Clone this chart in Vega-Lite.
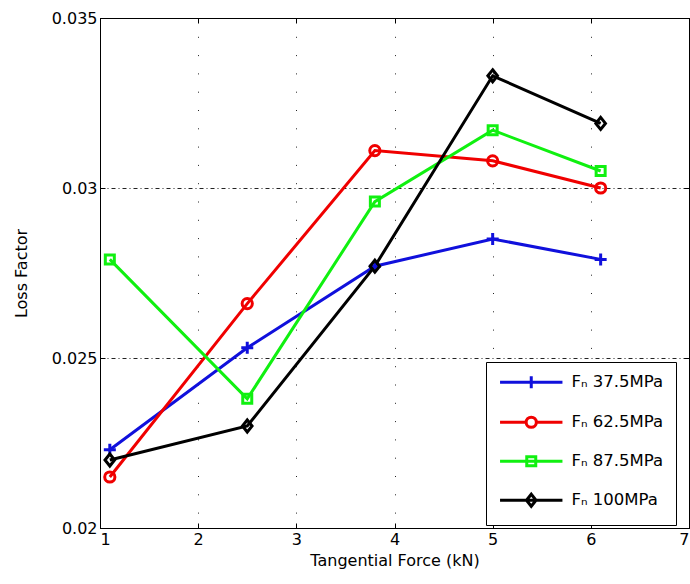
{
  "$schema": "https://vega.github.io/schema/vega-lite/v6.json",
  "width": 589,
  "height": 510,
  "autosize": {"type": "none"},
  "padding": {"left": 100, "top": 18, "right": 1, "bottom": 56},
  "background": "white",
  "config": {
    "font": "DejaVu Sans",
    "view": {"stroke": "black", "strokeWidth": 1},
    "axis": {
      "domainColor": "black",
      "tickColor": "black",
      "labelColor": "black",
      "titleColor": "black",
      "labelFont": "DejaVu Sans",
      "titleFont": "DejaVu Sans",
      "labelFontSize": 16,
      "titleFontSize": 16,
      "titleFontWeight": "normal",
      "gridColor": "#222222",
      "gridOpacity": 1,
      "gridWidth": 1,
      "tickSize": -5
    },
    "legend": {
      "orient": "none",
      "legendX": 386,
      "legendY": 344,
      "padding": 12,
      "strokeColor": "black",
      "fillColor": "white",
      "cornerRadius": 0,
      "symbolSize": 144,
      "symbolStrokeWidth": 3,
      "symbolOffset": 25,
      "labelOffset": 32,
      "rowPadding": 16,
      "labelFont": "DejaVu Sans",
      "labelFontSize": 16.5,
      "labelColor": "black",
      "labelLimit": 300
    }
  },
  "data": {
    "values": [
      {"force": 1.1, "loss": 0.0223, "series": "Fₙ 37.5MPa"},
      {"force": 2.5, "loss": 0.0253, "series": "Fₙ 37.5MPa"},
      {"force": 3.8, "loss": 0.0277, "series": "Fₙ 37.5MPa"},
      {"force": 5.0, "loss": 0.0285, "series": "Fₙ 37.5MPa"},
      {"force": 6.1, "loss": 0.0279, "series": "Fₙ 37.5MPa"},
      {"force": 1.1, "loss": 0.0215, "series": "Fₙ 62.5MPa"},
      {"force": 2.5, "loss": 0.0266, "series": "Fₙ 62.5MPa"},
      {"force": 3.8, "loss": 0.0311, "series": "Fₙ 62.5MPa"},
      {"force": 5.0, "loss": 0.0308, "series": "Fₙ 62.5MPa"},
      {"force": 6.1, "loss": 0.0300, "series": "Fₙ 62.5MPa"},
      {"force": 1.1, "loss": 0.0279, "series": "Fₙ 87.5MPa"},
      {"force": 2.5, "loss": 0.0238, "series": "Fₙ 87.5MPa"},
      {"force": 3.8, "loss": 0.0296, "series": "Fₙ 87.5MPa"},
      {"force": 5.0, "loss": 0.0317, "series": "Fₙ 87.5MPa"},
      {"force": 6.1, "loss": 0.0305, "series": "Fₙ 87.5MPa"},
      {"force": 1.1, "loss": 0.0220, "series": "Fₙ 100MPa"},
      {"force": 2.5, "loss": 0.0230, "series": "Fₙ 100MPa"},
      {"force": 3.8, "loss": 0.0277, "series": "Fₙ 100MPa"},
      {"force": 5.0, "loss": 0.0333, "series": "Fₙ 100MPa"},
      {"force": 6.1, "loss": 0.0319, "series": "Fₙ 100MPa"}
    ]
  },
  "resolve": {"axis": {"x": "independent", "y": "independent"}},
  "layer": [
    {
      "mark": {"type": "line", "strokeWidth": 3, "clip": true},
      "encoding": {
        "x": {
          "field": "force", "type": "quantitative",
          "scale": {"domain": [1, 7], "nice": false, "zero": false},
          "axis": {
            "title": "Tangential Force (kN)",
            "values": [1, 2, 3, 4, 5, 6, 7],
            "grid": true,
            "gridDash": [1, 17.3],
            "labelPadding": 8,
            "titlePadding": 5
          }
        },
        "y": {
          "field": "loss", "type": "quantitative",
          "scale": {"domain": [0.02, 0.035], "nice": false, "zero": false},
          "axis": {
            "title": "Loss Factor",
            "values": [0.02, 0.025, 0.03, 0.035],
            "format": ".3~f",
            "grid": true,
            "gridDash": [4, 3, 1, 3],
            "labelPadding": 8,
            "titlePadding": 22
          }
        },
        "color": {
          "field": "series", "type": "nominal",
          "scale": {
            "domain": ["Fₙ 37.5MPa", "Fₙ 62.5MPa", "Fₙ 87.5MPa", "Fₙ 100MPa"],
            "range": ["#1010dc", "#f00000", "#10f010", "#000000"]
          },
          "legend": {
            "title": null,
            "encode": {
              "symbols": {
                "update": {
                  "fill": {"value": "transparent"},
                  "shape": {
                    "signal": "datum.value === 'Fₙ 37.5MPa' ? 'M-5.2,0H5.2M0,-1V1' : datum.value === 'Fₙ 62.5MPa' ? 'M-5.2,0H-0.85M0.85,0H5.2M0.85,0A0.85,0.85,0,1,1,-0.85,0A0.85,0.85,0,1,1,0.85,0Z' : datum.value === 'Fₙ 87.5MPa' ? 'M-5.2,0H5.2M-0.75,-0.75H0.75V0.75H-0.75Z' : 'M-5.2,0H5.2M0,-1L0.8,0L0,1L-0.8,0Z'"
                  }
                }
              }
            }
          }
        },
        "detail": {"field": "series"}
      }
    },
    {
      "mark": {"type": "point", "filled": false, "strokeWidth": 3, "size": 144, "opacity": 1},
      "encoding": {
        "x": {
          "field": "force", "type": "quantitative",
          "axis": {"orient": "top", "values": [1, 2, 3, 4, 5, 6, 7], "labels": false, "title": null, "grid": false}
        },
        "y": {
          "field": "loss", "type": "quantitative",
          "axis": {"orient": "right", "values": [0.02, 0.025, 0.03, 0.035], "labels": false, "title": null, "grid": false}
        },
        "color": {
          "field": "series", "type": "nominal",
          "legend": {
            "title": null,
            "encode": {
              "symbols": {
                "update": {
                  "fill": {"value": "transparent"},
                  "shape": {
                    "signal": "datum.value === 'Fₙ 37.5MPa' ? 'M-5.2,0H5.2M0,-1V1' : datum.value === 'Fₙ 62.5MPa' ? 'M-5.2,0H-0.85M0.85,0H5.2M0.85,0A0.85,0.85,0,1,1,-0.85,0A0.85,0.85,0,1,1,0.85,0Z' : datum.value === 'Fₙ 87.5MPa' ? 'M-5.2,0H5.2M-0.75,-0.75H0.75V0.75H-0.75Z' : 'M-5.2,0H5.2M0,-1L0.8,0L0,1L-0.8,0Z'"
                  }
                }
              }
            }
          }
        },
        "shape": {
          "field": "series", "type": "nominal",
          "scale": {
            "range": [
              "M0,-1L0.8,0L0,1L-0.8,0Z",
              "M-1,0H1M0,-1V1",
              "M0.85,0A0.85,0.85,0,1,1,-0.85,0A0.85,0.85,0,1,1,0.85,0Z",
              "M-0.75,-0.75H0.75V0.75H-0.75Z"
            ]
          },
          "legend": null
        }
      }
    }
  ]
}
